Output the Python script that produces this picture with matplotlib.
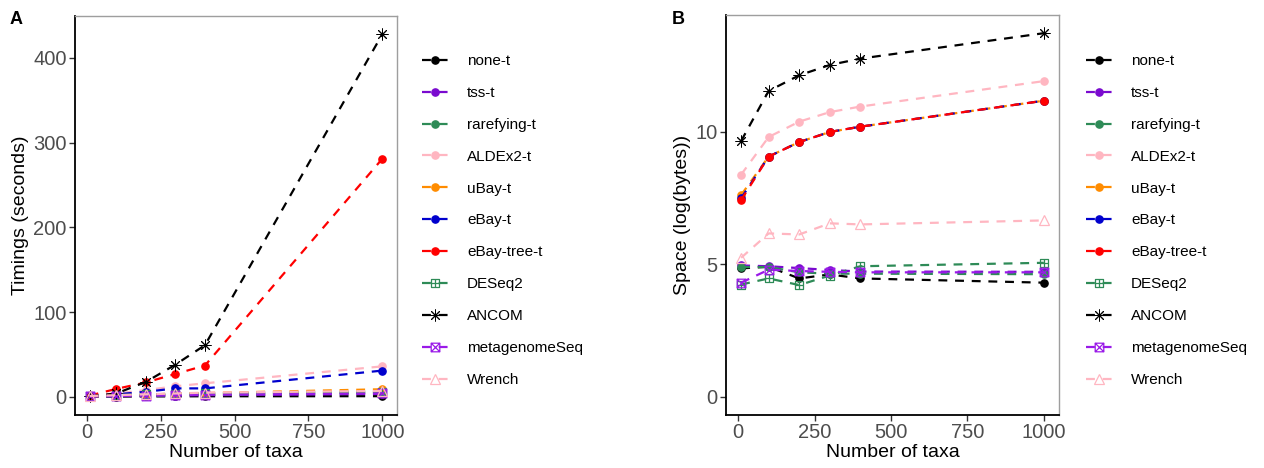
import matplotlib.pyplot as plt
from matplotlib.path import Path
import numpy as np

plt.rcParams['font.family'] = ['Liberation Sans', 'DejaVu Sans']

# Data
taxa = [10, 100, 200, 300, 400, 1000]
methods = ['none-t', 'tss-t', 'rarefying-t', 'ALDEx2-t', 'uBay-t', 'eBay-t',
           'eBay-tree-t', 'DESeq2', 'ANCOM', 'metagenomeSeq', 'Wrench']

time_none = [0.1, 0.3, 0.5, 0.6, 0.7, 0.8]
time_tss = [0.3, 0.8, 1.2, 1.6, 2.0, 3.5]
time_rare = [0.3, 0.9, 1.5, 2.0, 2.5, 5.0]
time_aldex = [2.0, 4.0, 8.0, 12.5, 16.0, 36.0]
time_ubay = [0.5, 1.5, 2.5, 4.0, 4.5, 9.0]
time_ebay = [1.0, 3.0, 6.0, 10.0, 10.0, 31.0]
time_ebaytree = [1.5, 9.4, 17.0, 27.0, 37.0, 281.0]
time_deseq = [1.0, 2.0, 3.0, 3.5, 4.0, 6.0]
time_ancom = [0.5, 4.0, 17.6, 38.0, 61.0, 428.0]
time_mgs = [0.5, 1.0, 1.5, 2.0, 2.5, 4.0]
time_wrench = [1.0, 2.0, 3.0, 4.0, 5.0, 7.0]

space_none = [4.85, 4.91, 4.47, 4.62, 4.47, 4.31]
space_tss = [4.96, 4.93, 4.86, 4.79, 4.73, 4.72]
space_rare = [4.90, 4.90, 4.70, 4.65, 4.65, 4.63]
space_aldex = [8.39, 9.81, 10.39, 10.75, 10.96, 11.92]
space_ubay = [7.62, 9.07, 9.62, 10.0, 10.2, 11.18]
space_ebay = [7.50, 9.07, 9.62, 10.0, 10.2, 11.18]
space_ebaytree = [7.43, 9.07, 9.62, 10.0, 10.2, 11.18]
space_deseq = [4.24, 4.47, 4.22, 4.58, 4.93, 5.06]
space_ancom = [9.66, 11.55, 12.14, 12.53, 12.77, 13.73]
space_mgs = [4.31, 4.80, 4.75, 4.72, 4.70, 4.70]
space_wrench = [5.25, 6.17, 6.13, 6.55, 6.51, 6.66]

timings = [time_none, time_tss, time_rare, time_aldex, time_ubay, time_ebay,
           time_ebaytree, time_deseq, time_ancom, time_mgs, time_wrench]
spaces = [space_none, space_tss, space_rare, space_aldex, space_ubay, space_ebay,
          space_ebaytree, space_deseq, space_ancom, space_mgs, space_wrench]

# Styles (ggplot-like shapes)
sq = [(-1, -1), (1, -1), (1, 1), (-1, 1), (-1, -1)]
sq_codes = [Path.MOVETO, Path.LINETO, Path.LINETO, Path.LINETO, Path.CLOSEPOLY]
sq_plus = Path(sq + [(0, -1), (0, 1), (-1, 0), (1, 0)],
               sq_codes + [Path.MOVETO, Path.LINETO, Path.MOVETO, Path.LINETO])
sq_cross = Path(sq + [(-1, -1), (1, 1), (-1, 1), (1, -1)],
                sq_codes + [Path.MOVETO, Path.LINETO, Path.MOVETO, Path.LINETO])

colors = ['black', '#7A0ACF', '#2E8B57', '#FFB6C1', '#FF8C00', '#0000CD',
          '#FF0000', '#2E8B57', 'black', '#9A1AE8', '#FFB6C1']
markers = ['o', 'o', 'o', 'o', 'o', 'o', 'o', sq_plus, (8, 2, 0), sq_cross, '^']
filled = [True] * 7 + [False, True, False, False]
msizes = [5.2] * 7 + [6.2, 8.5, 6.2, 7]
edgew = [1.0] * 7 + [0.9, 0.7, 0.9, 0.9]

W, H = 1264, 468
fig = plt.figure(figsize=(W / 100, H / 100), dpi=100)
axA = fig.add_axes([75 / W, (H - 415) / H, 322 / W, 399 / H])
axB = fig.add_axes([726 / W, (H - 415) / H, 333 / W, 400 / H])


def draw(ax, data, ylabel, yticks):
    for name, vals, c, m, f, ms, ew in zip(methods, data, colors, markers,
                                           filled, msizes, edgew):
        ax.plot(taxa, vals, color=c, lw=1.6, dashes=(4, 3.5), marker=m,
                markersize=ms, markerfacecolor=c if f else 'none',
                markeredgecolor=c, markeredgewidth=ew, label=name)
    ymax = max(max(v) for v in data)
    ax.set_xlim(10 - 0.05 * 990, 1000 + 0.05 * 990)
    ax.set_ylim(-0.05 * ymax, ymax * 1.05)
    ax.set_xticks([0, 250, 500, 750, 1000])
    ax.set_yticks(yticks)
    ax.set_xlabel('Number of taxa', fontsize=14, labelpad=1)
    ax.set_ylabel(ylabel, fontsize=14, labelpad=3)
    ax.tick_params(labelsize=14.5, labelcolor='#4D4D4D', color='#333333',
                   length=4, width=1, pad=2)
    for s in ['left', 'bottom']:
        ax.spines[s].set_color('black')
        ax.spines[s].set_linewidth(1.3)
    for s in ['top', 'right']:
        ax.spines[s].set_color('#9E9E9E')
        ax.spines[s].set_linewidth(1.0)
    handles, labels = ax.get_legend_handles_labels()
    return handles, labels


hA, lA = draw(axA, timings, 'Timings (seconds)', [0, 100, 200, 300, 400])
hB, lB = draw(axB, spaces, 'Space (log(bytes))', [0, 5, 10])

for h, l, x in [(hA, lA, 416 / W), (hB, lB, 1080 / W)]:
    fig.legend(h, l, loc='upper left', bbox_to_anchor=(x, (H - 48) / H),
               frameon=False, fontsize=11, handlelength=1.75,
               handletextpad=1.2, labelspacing=1.17, borderaxespad=0)

fig.text(10 / W, (H - 20) / H, 'A', fontsize=13, fontweight='bold', va='center')
fig.text(672 / W, (H - 20) / H, 'B', fontsize=13, fontweight='bold', va='center')

plt.savefig('out.png', dpi=100)
